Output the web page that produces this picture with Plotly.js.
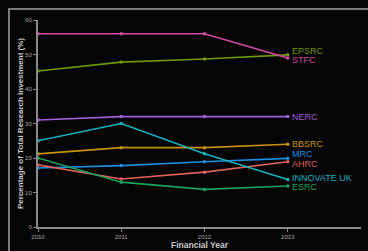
<!DOCTYPE html>
<html><head><meta charset="utf-8">
<script src="https://cdn.plot.ly/plotly-3.0.1.min.js"></script>
<style>
html,body{margin:0;padding:0;background:#050505;}
#wrap{position:relative;width:368px;height:251px;overflow:hidden;}
#frame{position:absolute;left:8px;top:8px;width:400px;height:300px;border-top:2px solid #7a7a7a;border-left:2px solid #7a7a7a;pointer-events:none;}
#chart{position:absolute;left:0;top:0;width:368px;height:251px;}
</style></head>
<body><div id="wrap"><div id="frame"></div><div id="chart"></div></div>
<script>
const years = [2010, 2011, 2012, 2013];
const councils = ['EPSRC','STFC','NERC','BBSRC','MRC','AHRC','INNOVATE UK','ESRC'];
const EPSRC = [45.2, 47.8, 48.7, 49.9];
const STFC = [56, 56, 56, 49];
const NERC = [31, 32, 32, 32];
const BBSRC = [21.2, 23, 23, 24];
const MRC = [17.1, 17.8, 18.9, 19.9];
const AHRC = [18, 13.9, 15.9, 18.9];
const INNOVATE_UK = [25, 30, 21.2, 13.8];
const ESRC = [20, 13, 10.9, 11.9];
const colors = ['#6f9a0c','#d64ba6','#a05fd6','#c8920e','#1d8fe0','#e0625a','#17b2c0','#1aa35c'];
const values = [EPSRC, STFC, NERC, BBSRC, MRC, AHRC, INNOVATE_UK, ESRC];
const labelShift = [4, -2, 0, 0, 4, -2, 1, -1];

const traces = councils.map((c, i) => ({
  x: years, y: values[i], type: 'scatter', mode: 'lines+markers',
  line: {color: colors[i], width: 1.6},
  marker: {color: colors[i], size: 3.5},
  cliponaxis: false, hoverinfo: 'none', showlegend: false
}));

const annotations = councils.map((c, i) => ({
  x: years[years.length - 1], y: values[i][values[i].length - 1],
  xref: 'x', yref: 'y', text: c, showarrow: false,
  xanchor: 'left', yanchor: 'middle', xshift: 2, yshift: labelShift[i],
  font: {family: 'Liberation Sans, Arial, sans-serif', size: 9, color: colors[i]}
}));

const layout = {
  width: 368, height: 251,
  margin: {l: 38, r: 7, t: 20, b: 24},
  paper_bgcolor: 'rgba(0,0,0,0)', plot_bgcolor: 'rgba(0,0,0,0)',
  font: {family: 'Liberation Sans, Arial, sans-serif', color: '#aaaaaa'},
  annotations: annotations,
  xaxis: {
    range: [2010, 2013.88], tickvals: years, ticktext: years.map(String),
    showgrid: false, zeroline: false, showline: true, linecolor: '#8a8a8a', linewidth: 2,
    ticks: 'outside', ticklen: 3, tickcolor: '#8a8a8a', tickfont: {size: 6, color: '#aaaaaa'},
    title: {text: '<b>Financial Year</b>', font: {size: 8.5, color: '#c8c8c8'}, standoff: 0}
  },
  yaxis: {
    range: [0, 60], tickvals: [0,10,20,30,40,50,60],
    showgrid: false, zeroline: false, showline: true, linecolor: '#8a8a8a', linewidth: 2,
    ticks: 'outside', ticklen: 3, tickcolor: '#8a8a8a', tickfont: {size: 6, color: '#aaaaaa'},
    title: {text: '<b>Percentage of Total Research Investment (%)</b>', font: {size: 8, color: '#c8c8c8'}, standoff: 0}
  }
};
Plotly.newPlot('chart', traces, layout, {displayModeBar: false, staticPlot: true});
</script></body></html>
